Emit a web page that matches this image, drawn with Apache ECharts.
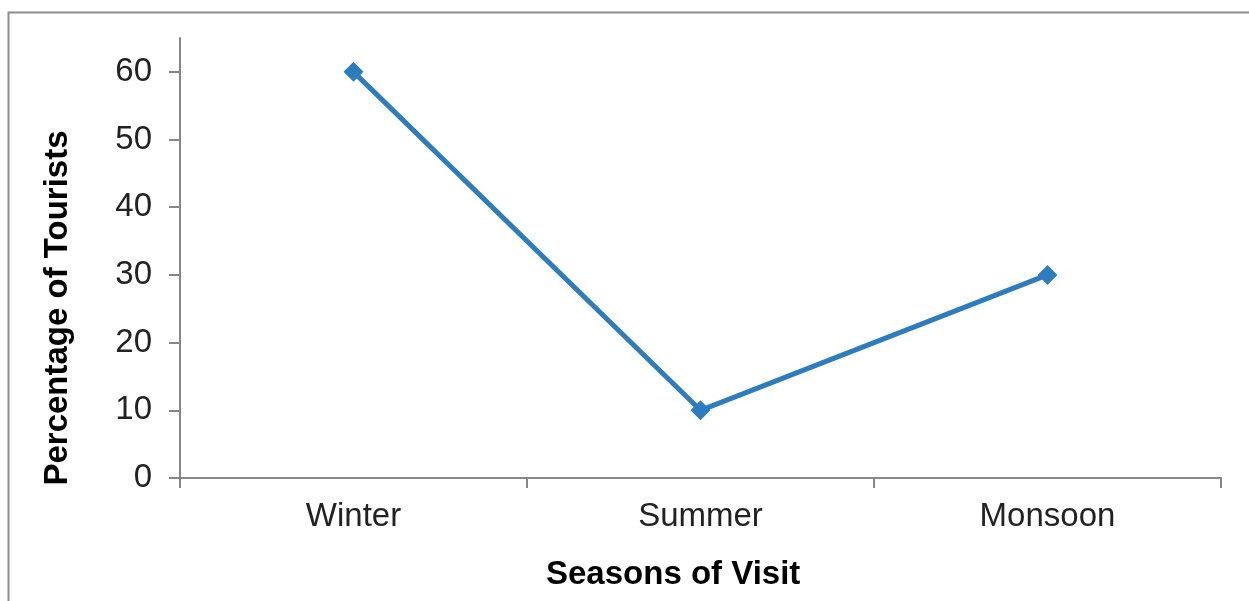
<!DOCTYPE html>
<html>
<head>
<meta charset="utf-8">
<script src="https://cdn.jsdelivr.net/npm/echarts@6/dist/echarts.min.js"></script>
<style>html,body{margin:0;padding:0;background:#fff;}#c{width:1249px;height:601px;}</style>
</head>
<body>
<div id="c"></div>
<script>
const categories = ['Winter', 'Summer', 'Monsoon'];
const touristPercent = [60, 10, 30];
const yTickValues = [0, 10, 20, 30, 40, 50, 60];
const xAxisTitle = 'Seasons of Visit';
const yAxisTitle = 'Percentage of Tourists';

const chart = echarts.init(document.getElementById('c'), null, {renderer: 'canvas'});
const font = '"Liberation Sans", Arial, sans-serif';
chart.setOption({
  animation: false,
  backgroundColor: '#ffffff',
  grid: {left: 180, right: 28, top: 38, bottom: 123, containLabel: false},
  graphic: [
    {type: 'rect', left: 6, top: 10, shape: {x: 0, y: 0, width: 1400, height: 800}, style: {fill: 'none', stroke: '#8c8c8c', lineWidth: 2}, z: -1},
    {type: 'text', left: 546, top: 558, style: {text: xAxisTitle, font: 'bold 33px ' + font, fill: '#000000'}},
    {type: 'text', x: 41, y: 308, rotation: Math.PI / 2, style: {text: yAxisTitle, font: 'bold 33px ' + font, fill: '#000000', align: 'center', verticalAlign: 'top'}}
  ],
  xAxis: {
    type: 'category',
    data: categories,
    boundaryGap: true,
    axisLine: {lineStyle: {color: '#868686', width: 2}},
    axisTick: {show: true, length: 10, lineStyle: {color: '#868686', width: 2}},
    axisLabel: {fontSize: 33, fontFamily: font, color: '#222222', margin: 22}
  },
  yAxis: {
    type: 'value',
    min: 0,
    max: 65,
    interval: 10,
    splitLine: {show: false},
    axisLine: {show: true, lineStyle: {color: '#868686', width: 2}},
    axisTick: {show: true, length: 11, customValues: yTickValues, lineStyle: {color: '#868686', width: 2}},
    axisLabel: {fontSize: 33, fontFamily: font, color: '#222222', margin: 28, customValues: yTickValues}
  },
  series: [{
    type: 'line',
    data: touristPercent,
    symbol: 'diamond',
    symbolSize: 20,
    lineStyle: {color: '#2e7cc0', width: 5},
    itemStyle: {color: '#2e7cc0'}
  }]
});
</script>
</body>
</html>
